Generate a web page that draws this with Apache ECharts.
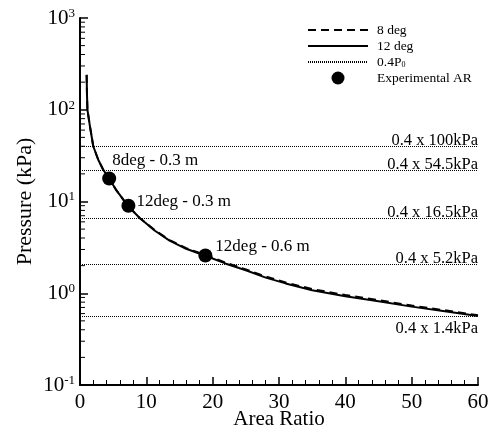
<!DOCTYPE html>
<html>
<head>
<meta charset="utf-8">
<script src="https://cdn.jsdelivr.net/npm/echarts@6/dist/echarts.min.js"></script>
<style>html,body{margin:0;padding:0;background:#fff;}#c{width:496px;height:432px;}</style>
</head>
<body>
<div id="c"></div>
<script>
// Area ratio samples and pressures (kPa)
const areaRatio = [1.0, 1.05, 1.12, 1.5, 2.0, 2.75, 3.5, 4.4, 5.5, 7.2, 9.0, 11.3, 13.5, 16, 19, 22, 25, 28, 31, 35, 40, 45, 50, 55, 60];
const p12deg   = [240, 150, 100, 66, 40, 28.5, 22.2, 17.8, 13.2, 9.0, 6.6, 4.8, 3.75, 3.05, 2.55, 2.1, 1.78, 1.48, 1.28, 1.08, 0.93, 0.82, 0.715, 0.637, 0.565];
const p8deg    = [240, 150, 100, 66, 40, 28.5, 22.2, 17.8, 13.2, 9.0, 6.6, 4.85, 3.8, 3.1, 2.6, 2.15, 1.82, 1.52, 1.31, 1.11, 0.955, 0.84, 0.735, 0.652, 0.575];
// 0.4 x P0 reference levels
const refLevels = [40, 21.8, 6.6, 2.08, 0.56];
const refLabels = ['0.4 x 100kPa', '0.4 x 54.5kPa', '0.4 x 16.5kPa', '0.4 x 5.2kPa', '0.4 x 1.4kPa'];
// experimental area ratios
const expAR = [4.4, 7.3, 18.9];
const expP = [17.8, 9.0, 2.58];
const expLabels = ['8deg - 0.3 m', '12deg - 0.3 m', '12deg - 0.6 m'];
// axis ticks
const xTicks = [0, 10, 20, 30, 40, 50, 60];
const yDecades = [0.1, 1, 10, 100];
const yMinorMult = [2, 3, 4, 5, 6, 7, 8, 9];

const F = 'Liberation Serif';
const chart = echarts.init(document.getElementById('c'), null, {renderer: 'canvas'});
const minorVals = [];
yDecades.forEach(d => yMinorMult.forEach(m => minorVals.push([0, d * m])));

const labelPos = [
  {position: 'top', offset: [46, 3]},
  {position: 'right', offset: [-4, -4]},
  {position: 'right', offset: [-2, -9]}
];

const hideSym = {opacity: 0};
const option = {
  animation: false,
  backgroundColor: '#fff',
  grid: {left: 80, right: 18, top: 18, bottom: 47, containLabel: false, outerBoundsMode: 'none'},
  xAxis: {
    type: 'value', min: 0, max: 60, interval: 10,
    name: 'Area Ratio', nameLocation: 'middle', nameGap: 24, nameMoveOverlap: false,
    nameTextStyle: {fontFamily: F, fontSize: 21, color: '#000'},
    axisLine: {lineStyle: {color: '#000', width: 2}},
    axisTick: {inside: true, length: 8, lineStyle: {color: '#000', width: 1.5}},
    minorTick: {show: true, splitNumber: 5, length: 5, lineStyle: {color: '#000', width: 1}},
    axisLabel: {fontFamily: F, fontSize: 21, color: '#000', margin: 7},
    splitLine: {show: false}
  },
  yAxis: {
    type: 'log', logBase: 10, min: 0.1, max: 1000,
    name: 'Pressure (kPa)', nameLocation: 'middle', nameGap: 44, nameMoveOverlap: false,
    nameTextStyle: {fontFamily: F, fontSize: 22, color: '#000'},
    axisLine: {show: true, lineStyle: {color: '#000', width: 2}},
    axisTick: {inside: true, length: 8, lineStyle: {color: '#000', width: 1.5}},
    axisLabel: {
      margin: 5,
      formatter: v => '{b|10}{s|' + Math.round(Math.log10(v)) + '}',
      rich: {
        b: {fontFamily: F, fontSize: 21, color: '#000', lineHeight: 22},
        s: {fontFamily: F, fontSize: 13, color: '#000', verticalAlign: 'top', lineHeight: 22, padding: [0, 0, 10, 0]}
      }
    },
    splitLine: {show: false}
  },
  legend: {
    orient: 'vertical', left: 307, top: 23, padding: 0,
    itemWidth: 60, itemHeight: 13, itemGap: 2,
    data: [
      {name: '8 deg', itemStyle: hideSym},
      {name: '12 deg', itemStyle: hideSym},
      {name: '0.4P0', itemStyle: hideSym},
      {name: 'Experimental AR'}
    ],
    formatter: n => n === '0.4P0' ? '0.4P{sub|0}' : n,
    textStyle: {fontFamily: F, fontSize: 13.5, lineHeight: 13, color: '#000', padding: [0, 0, 0, 4],
      rich: {sub: {fontFamily: F, fontSize: 8, color: '#000', verticalAlign: 'bottom', padding: [6, 0, 0, 0]}}}
  },
  series: [
    {
      name: '8 deg', type: 'line', symbol: 'none', z: 3,
      itemStyle: {color: '#000'},
      data: areaRatio.map((x, i) => [x, p8deg[i]]),
      lineStyle: {color: '#000', width: 2, type: [8, 5]}
    },
    {
      name: '12 deg', type: 'line', symbol: 'none', z: 4,
      itemStyle: {color: '#000'},
      data: areaRatio.map((x, i) => [x, p12deg[i]]),
      lineStyle: {color: '#000', width: 2, type: 'solid'}
    },
    {
      name: '0.4P0', type: 'line', symbol: 'none', data: [],
      itemStyle: {color: '#000'},
      lineStyle: {color: '#000', width: 1, type: [1, 1]},
      markLine: {
        silent: true, symbol: 'none',
        lineStyle: {color: '#000', width: 1, type: [1, 1]},
        data: refLevels.map((v, i) => ({
          yAxis: v,
          label: {
            show: true, formatter: refLabels[i],
            position: i === refLevels.length - 1 ? 'insideEndBottom' : 'insideEndTop',
            distance: i === refLevels.length - 1 ? [0, 4] : [0, -3],
            fontFamily: F, fontSize: 16.5, color: '#000'
          }
        }))
      }
    },
    {
      name: 'Experimental AR', type: 'scatter', symbol: 'circle', symbolSize: 14, z: 5,
      itemStyle: {color: '#000', opacity: 1},
      data: expAR.map((x, i) => ({
        value: [x, expP[i]],
        label: Object.assign({show: true, formatter: expLabels[i], fontFamily: F, fontSize: 17, color: '#000'}, labelPos[i])
      }))
    },
    {
      name: 'minorY', type: 'custom', silent: true, clip: false, z: 2,
      data: minorVals,
      renderItem: (params, api) => {
        const p = api.coord([api.value(0), api.value(1)]);
        return {type: 'line', shape: {x1: p[0], y1: p[1], x2: p[0] + 5, y2: p[1]}, style: {stroke: '#000', lineWidth: 1}};
      }
    }
  ]
};
chart.setOption(option);
</script>
</body>
</html>
